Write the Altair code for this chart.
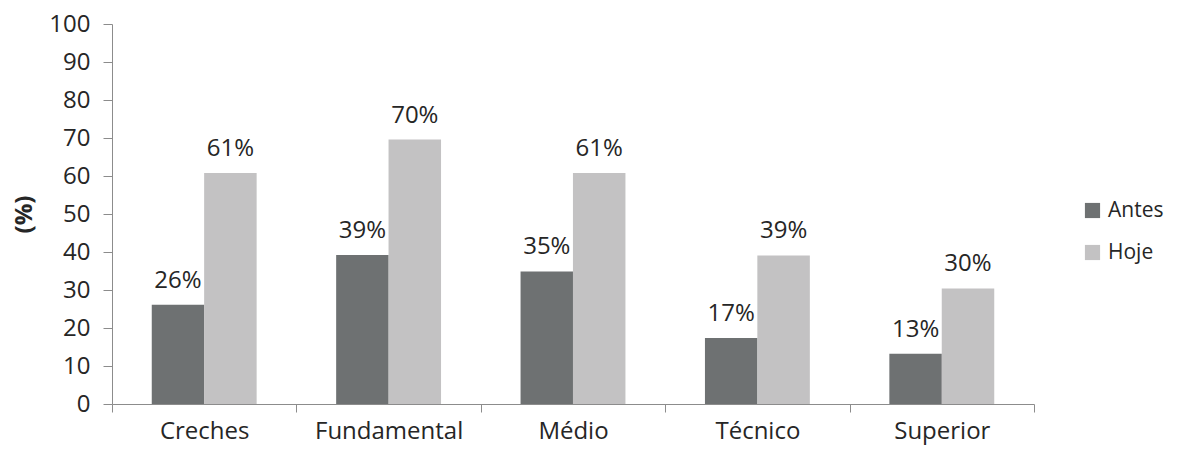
import altair as alt
import pandas as pd

categories = ["Creches", "Fundamental", "Médio", "Técnico", "Superior"]
antes = [26.1, 39.2, 34.9, 17.4, 13.2]
hoje = [60.8, 69.6, 60.8, 39.1, 30.4]
series = ["Antes", "Hoje"]
colors = ["#6e7172", "#c3c2c3"]
y_ticks = [0, 10, 20, 30, 40, 50, 60, 70, 80, 90, 100]

rows = []
for c, a, h in zip(categories, antes, hoje):
    rows.append({"cat": c, "serie": "Antes", "v": a})
    rows.append({"cat": c, "serie": "Hoje", "v": h})
df = pd.DataFrame(rows)

FONT = "Open Sans"
FS = 24

x = alt.X("cat:N", sort=categories, title=None,
          scale=alt.Scale(paddingInner=0, paddingOuter=0),
          axis=alt.Axis(labelAngle=0, labelFontSize=FS, labelColor="#262626",
                        labelFont=FONT, tickBand="extent", tickSize=8,
                        tickColor="#8c8c8c", domainColor="#8c8c8c",
                        labelPadding=7, labelBaseline="top"))
xo = alt.XOffset("serie:N", sort=series,
                 scale=alt.Scale(paddingInner=0, paddingOuter=0.76))
y = alt.Y("v:Q", title="(%)",
          scale=alt.Scale(domain=[0, 100], nice=False),
          axis=alt.Axis(values=y_ticks, grid=False, tickCount=11,
                        labelOverlap=False,
                        labelFontSize=FS, labelColor="#262626", labelFont=FONT,
                        tickSize=9, tickColor="#8c8c8c", domainColor="#8c8c8c",
                        labelPadding=13, titleFont=FONT, titleFontSize=FS,
                        titleFontWeight="bold", titleColor="#262626",
                        titlePadding=12))

base = alt.Chart(df).encode(x=x, xOffset=xo, y=y)

bars = base.mark_bar(size=52.5).encode(
    color=alt.Color("serie:N", sort=series, title=None,
                    scale=alt.Scale(domain=series, range=colors),
                    legend=alt.Legend(orient="none", legendX=970, legendY=176,
                                      symbolType="square", symbolSize=230,
                                      symbolStrokeWidth=0,
                                      labelFontSize=21, labelFont=FONT,
                                      labelColor="#262626", rowPadding=20,
                                      labelOffset=5)),
)

labels = base.transform_calculate(
    lab="format(round(datum.v), 'd') + '%'"
).mark_text(dy=-24, fontSize=FS, font=FONT, color="#262626").encode(
    text="lab:N"
)

chart = (bars + labels).properties(
    width=922, height=380,
    autosize=alt.AutoSizeParams(type="none"),
    padding={"left": 104, "top": 16, "right": 138, "bottom": 41},
).configure(background="white").configure_view(stroke=None)

chart.save("out.html", embed_options={"renderer": "svg", "actions": False})
